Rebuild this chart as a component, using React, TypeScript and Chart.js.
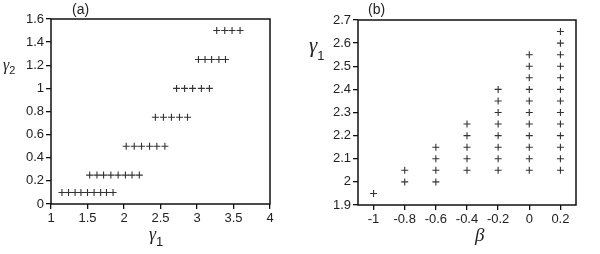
import React, { useEffect, useRef } from "react";
import { Chart, registerables } from "chart.js";

Chart.register(...registerables);

// ---- Panel (a) data: gamma2 rows and their gamma1 values ----
const gamma2Rows = [0.1, 0.25, 0.5, 0.75, 1.0, 1.25, 1.5];
const gamma1Row010 = [1.15, 1.24, 1.33, 1.41, 1.5, 1.59, 1.68, 1.76, 1.85];
const gamma1Row025 = [1.53, 1.63, 1.72, 1.82, 1.92, 2.02, 2.11, 2.21];
const gamma1Row050 = [2.03, 2.14, 2.24, 2.35, 2.45, 2.56];
const gamma1Row075 = [2.43, 2.54, 2.65, 2.76, 2.87];
const gamma1Row100 = [2.72, 2.83, 2.94, 3.06, 3.17];
const gamma1Row125 = [3.02, 3.11, 3.2, 3.3, 3.39];
const gamma1Row150 = [3.27, 3.38, 3.48, 3.59];
const gamma1RowsA = [gamma1Row010, gamma1Row025, gamma1Row050, gamma1Row075, gamma1Row100, gamma1Row125, gamma1Row150];

const xTicksA = [1, 1.5, 2, 2.5, 3, 3.5, 4];
const yTicksA = [0, 0.2, 0.4, 0.6, 0.8, 1, 1.2, 1.4, 1.6];

// ---- Panel (b) data: beta columns and their gamma1 values ----
const betaCols = [-1, -0.8, -0.6, -0.4, -0.2, 0, 0.2];
const gamma1ColM10 = [1.95];
const gamma1ColM08 = [2.0, 2.05];
const gamma1ColM06 = [2.0, 2.05, 2.1, 2.15];
const gamma1ColM04 = [2.05, 2.1, 2.15, 2.2, 2.25];
const gamma1ColM02 = [2.05, 2.1, 2.15, 2.2, 2.25, 2.3, 2.35, 2.4];
const gamma1Col00 = [2.05, 2.1, 2.15, 2.2, 2.25, 2.3, 2.35, 2.4, 2.45, 2.5, 2.55];
const gamma1Col02 = [2.05, 2.1, 2.15, 2.2, 2.25, 2.3, 2.35, 2.4, 2.45, 2.5, 2.55, 2.6, 2.65];
const gamma1ColsB = [gamma1ColM10, gamma1ColM08, gamma1ColM06, gamma1ColM04, gamma1ColM02, gamma1Col00, gamma1Col02];

const xTicksB = [-1, -0.8, -0.6, -0.4, -0.2, 0, 0.2];
const yTicksB = [1.9, 2, 2.1, 2.2, 2.3, 2.4, 2.5, 2.6, 2.7];

type Label = { main: string; sub?: string; x: number; y: number; size: number; subSize?: number; subDx: number; subDy: number; font: string };

function frameAndLabels(panel: string, panelX: number, labels: Label[]) {
  return {
    id: "frameLabels" + panel,
    afterDraw(chart: any) {
      const ctx = chart.ctx;
      const a = chart.chartArea;
      ctx.save();
      ctx.strokeStyle = "#111";
      ctx.lineWidth = 1.5;
      ctx.strokeRect(a.left, a.top, a.right - a.left, a.bottom - a.top);
      ctx.fillStyle = "#222";
      ctx.textBaseline = "alphabetic";
      ctx.textAlign = "left";
      ctx.font = "14px 'Liberation Sans', Arial, sans-serif";
      ctx.fillText(panel, panelX, 14);
      for (const l of labels) {
        ctx.font = l.font.replace("SIZE", String(l.size));
        ctx.fillText(l.main, l.x, l.y);
        if (l.sub) {
          const w = ctx.measureText(l.main).width;
          ctx.font = `${l.subSize}px 'Liberation Sans', Arial, sans-serif`;
          ctx.fillText(l.sub, l.x + w + l.subDx, l.y + l.subDy);
        }
      }
      ctx.restore();
    },
  };
}

const serif = "italic SIZEpx 'Liberation Serif', 'DejaVu Serif', serif";

function makeScale(min: number, max: number, ticks: number[], fit: (s: any) => void) {
  return {
    type: "linear",
    min,
    max,
    afterBuildTicks: (s: any) => {
      s.ticks = ticks.map((v) => ({ value: v }));
    },
    afterFit: fit,
    border: { display: false },
    grid: {
      display: true,
      drawOnChartArea: false,
      drawTicks: true,
      tickLength: 5,
      color: "#111",
      lineWidth: 1.3,
    },
    ticks: {
      color: "#222",
      padding: 2,
      font: { family: "'Liberation Sans', Arial, sans-serif", size: 13 },
      maxRotation: 0,
      autoSkip: false,
      callback: (v: number) => String(Math.round(v * 100) / 100),
    },
  };
}

const pointStyle = {
  pointStyle: "cross",
  pointRadius: 3.5,
  borderColor: "#333",
  backgroundColor: "#333",
  borderWidth: 1.1,
  showLine: false,
};

function PanelA() {
  const ref = useRef<HTMLCanvasElement>(null);
  useEffect(() => {
    const points: { x: number; y: number }[] = [];
    gamma1RowsA.forEach((row, i) => row.forEach((g1) => points.push({ x: g1, y: gamma2Rows[i] })));
    const chart = new Chart(ref.current!, {
      type: "scatter",
      data: { datasets: [{ data: points, ...pointStyle } as any] },
      options: {
        responsive: false,
        animation: false,
        layout: { padding: { left: 0, top: 19, right: 30, bottom: 0 } },
        plugins: { legend: { display: false }, tooltip: { enabled: false } },
        scales: {
          x: makeScale(1, 4, xTicksA, (s: any) => { s.height = 50; }) as any,
          y: makeScale(0, 1.6, yTicksA, (s: any) => { s.width = 51; }) as any,
        },
      },
      plugins: [
        frameAndLabels("(a)", 72, [
          { main: "γ", sub: "1", x: 149, y: 240, size: 18, subSize: 13, subDx: 0, subDy: 6, font: serif },
          { main: "γ", sub: "2", x: 3, y: 70, size: 16, subSize: 11, subDx: 0, subDy: 4, font: serif },
        ]),
      ],
    });
    return () => chart.destroy();
  }, []);
  return <canvas ref={ref} width={300} height={254} style={{ width: 300, height: 254, display: "block" }} />;
}

function PanelB() {
  const ref = useRef<HTMLCanvasElement>(null);
  useEffect(() => {
    const points: { x: number; y: number }[] = [];
    gamma1ColsB.forEach((col, i) => col.forEach((g1) => points.push({ x: betaCols[i], y: g1 })));
    const chart = new Chart(ref.current!, {
      type: "scatter",
      data: { datasets: [{ data: points, ...pointStyle } as any] },
      options: {
        responsive: false,
        animation: false,
        layout: { padding: { left: 0, top: 20, right: 24, bottom: 0 } },
        plugins: { legend: { display: false }, tooltip: { enabled: false } },
        scales: {
          x: makeScale(-1.1, 0.3, xTicksB, (s: any) => { s.height = 49; }) as any,
          y: makeScale(1.9, 2.7, yTicksB, (s: any) => { s.width = 58; }) as any,
        },
      },
      plugins: [
        frameAndLabels("(b)", 68, [
          { main: "β", x: 175, y: 241, size: 19, font: serif, subDx: 0, subDy: 0 },
          { main: "γ", sub: "1", x: 9, y: 52, size: 21, subSize: 13, subDx: 0, subDy: 8, font: serif },
        ]),
      ],
    });
    return () => chart.destroy();
  }, []);
  return <canvas ref={ref} width={300} height={254} style={{ width: 300, height: 254, display: "block" }} />;
}

export default function App() {
  return (
    <div style={{ position: "fixed", left: 0, top: 0, width: 600, height: 254, background: "#fff" }}>
      <div style={{ position: "absolute", left: 0, top: 0 }}>
        <PanelA />
      </div>
      <div style={{ position: "absolute", left: 300, top: 0 }}>
        <PanelB />
      </div>
    </div>
  );
}
